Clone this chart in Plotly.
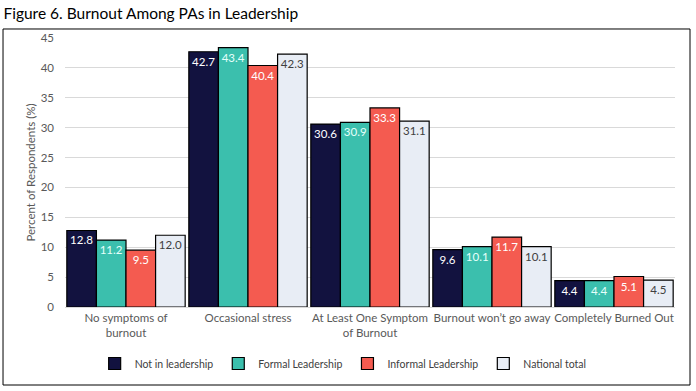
import plotly.graph_objects as go

categories = ["No symptoms of<br>burnout", "Occasional stress", "At Least One Symptom<br>of Burnout",
              "Burnout won\u2019t go away", "Completely Burned Out"]
series_names = ["Not in leadership", "Formal Leadership", "Informal Leadership", "National total"]
not_in_leadership = [12.8, 42.7, 30.6, 9.6, 4.4]
formal_leadership = [11.2, 43.4, 30.9, 10.1, 4.4]
informal_leadership = [9.5, 40.4, 33.3, 11.7, 5.1]
national_total = [12.0, 42.3, 31.1, 10.1, 4.5]
y_ticks = [0, 5, 10, 15, 20, 25, 30, 35, 40, 45]

values = [not_in_leadership, formal_leadership, informal_leadership, national_total]
colors = ["#12123F", "#3BBFAD", "#F45B50", "#E8EDF5"]
text_colors = ["#FFFFFF", "#E6FFFB", "#FFFFFF", "#404040"]

FONT = "Lato, Open Sans, sans-serif"

fig = go.Figure()
for name, vals, c, tc in zip(series_names, values, colors, text_colors):
    fig.add_trace(go.Bar(
        x=categories, y=vals, name=name,
        marker=dict(color=c, line=dict(color="#000000", width=1.2)),
        text=[f"{v:.1f}" for v in vals],
        textposition="inside", insidetextanchor="end",
        textfont=dict(color=tc, size=11.5, family=FONT),
        textangle=0, cliponaxis=False,
    ))

fig.update_layout(
    width=696, height=391,
    margin=dict(l=65, r=21, t=38, b=84),
    paper_bgcolor="white", plot_bgcolor="white",
    barmode="group", bargap=0.03, bargroupgap=0,
    font=dict(family=FONT, color="#595959", size=11.5),
    legend=dict(orientation="h", x=0.456, xanchor="center", y=-0.21, yanchor="middle",
                font=dict(size=10.5, color="#404040"), itemwidth=30, traceorder="normal"),
    title=dict(text="Figure 6. Burnout Among PAs in Leadership", x=0.005, xanchor="left",
               y=0.965, yanchor="middle", font=dict(size=15.5, color="#000000", family=FONT)),
    xaxis=dict(showline=True, linecolor="#D9D9D9", linewidth=1, tickfont=dict(size=11.5, color="#595959"),
               ticks="", tickangle=0, automargin=False),
    yaxis=dict(range=[0, 45], tickvals=y_ticks, showgrid=True, gridcolor="#D9D9D9", gridwidth=1,
               zeroline=False, tickfont=dict(size=11.5, color="#595959"), ticks="", automargin=False,
               ticklabelstandoff=10,
               title=dict(text="Percent of Respondents (%)", font=dict(size=11.5, color="#595959"), standoff=2)),
    shapes=[dict(type="rect", xref="paper", yref="paper",
                 x0=-0.1016, x1=1.0246, y0=-0.29, y1=1.0335,
                 line=dict(color="#000000", width=1), fillcolor="rgba(0,0,0,0)", layer="below")],
)

fig.write_html("out.html", config={"displayModeBar": False},
               post_script="document.body.style.margin='0';document.body.style.padding='0';")
